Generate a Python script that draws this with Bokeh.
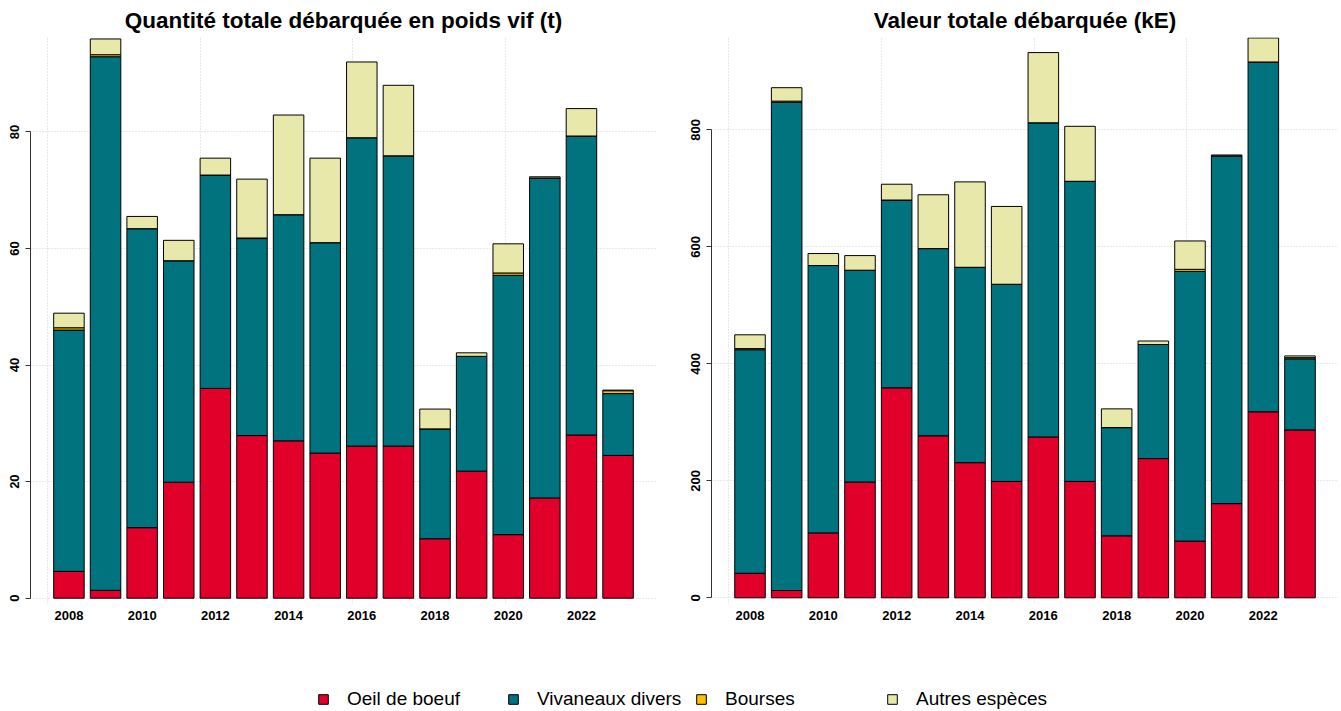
from bokeh.plotting import figure
from bokeh.models import Range1d, FixedTicker, Legend, LegendItem, ColumnDataSource
from bokeh.layouts import column, row
from bokeh.embed import file_html
from bokeh.resources import INLINE

# ---------------- data ----------------
years = [2008, 2009, 2010, 2011, 2012, 2013, 2014, 2015,
         2016, 2017, 2018, 2019, 2020, 2021, 2022, 2023]

species = ["Oeil de boeuf", "Vivaneaux divers", "Bourses", "Autres espèces"]
colors = ["#E0002A", "#00737F", "#FFC000", "#E8E8AA"]

# Quantité (t)
q_oeil = [4.6, 1.35, 12.1, 19.9, 36.0, 27.9, 27.0, 24.9, 26.1, 26.1, 10.2, 21.8, 10.9, 17.2, 28.0, 24.5]
q_viv = [41.4, 91.55, 51.3, 38.0, 36.6, 33.8, 38.8, 36.1, 52.9, 49.8, 18.8, 19.7, 44.5, 54.9, 51.3, 10.6]
q_bourses = [0.4, 0.35, 0.0, 0.0, 0.0, 0.1, 0.0, 0.0, 0.0, 0.0, 0.05, 0.0, 0.4, 0.0, 0.0, 0.5]
q_autres = [2.5, 2.7, 2.1, 3.5, 2.9, 10.1, 17.1, 14.5, 13.0, 12.1, 3.4, 0.6, 5.0, 0.2, 4.7, 0.1]

# Valeur (kE)
v_oeil = [42, 12.5, 111, 198, 359, 277, 231, 199, 275, 199, 106, 238, 97, 161, 318, 287]
v_viv = [382, 834.5, 457, 362, 321, 320, 334, 337, 537, 513, 185, 195, 461, 594.5, 598, 121.5]
v_bourses = [2, 2, 0, 0, 0, 0, 0, 0, 0, 0, 0, 0, 3.5, 0, 0, 2]
v_autres = [23.6, 23, 20.5, 25, 27, 92, 146, 133, 120, 94, 32, 6, 48.5, 1.5, 41, 3]

q_ticks = [0, 20, 40, 60, 80]
v_ticks = [0, 200, 400, 600, 800]

FONT = "Liberation Sans"
X_START, X_END = 2006.95, 2024.05
BAR_W = 1 / 1.2
GRID_X = [2008 + (k * 5 - 0.7) / 1.2 for k in range(4)]


def make_src(a, b, c, d):
    return ColumnDataSource(dict(year=years, s0=a, s1=b, s2=c, s3=d))


def make_fig(title, src, y_start, y_end, yticks, width, bl, br):
    p = figure(width=width, height=650,
               x_range=Range1d(X_START, X_END), y_range=Range1d(y_start, y_end),
               output_backend="svg", toolbar_location=None,
               min_border_left=bl, min_border_right=br,
               min_border_top=37, min_border_bottom=47)
    p.title.text = title
    p.title.align = "center"
    p.title.text_font = FONT
    p.title.text_font_size = "22.5px"
    p.title.text_font_style = "bold"
    p.title.text_color = "black"
    p.title.standoff = 9
    p.outline_line_color = None
    p.background_fill_color = "white"
    p.border_fill_color = "white"

    p.vbar_stack(["s0", "s1", "s2", "s3"], x="year", width=BAR_W, source=src,
                 fill_color=colors, line_color="black", line_width=1)

    xa = p.xaxis[0]
    xa.ticker = FixedTicker(ticks=years[::2])
    xa.axis_line_color = None
    xa.major_tick_line_color = None
    xa.minor_tick_line_color = None
    xa.major_label_text_font = FONT
    xa.major_label_text_font_size = "13px"
    xa.major_label_text_font_style = "bold"
    xa.major_label_text_color = "black"
    xa.major_label_standoff = 1

    ya = p.yaxis[0]
    ya.ticker = FixedTicker(ticks=yticks)
    ya.bounds = (yticks[0], yticks[-1])
    ya.major_label_orientation = "vertical"
    ya.major_tick_out = 5
    ya.major_tick_in = 0
    ya.minor_tick_line_color = None
    ya.axis_line_color = "#333333"
    ya.major_tick_line_color = "#333333"
    ya.major_label_text_font = FONT
    ya.major_label_text_font_size = "13px"
    ya.major_label_text_font_style = "bold"
    ya.major_label_text_color = "black"
    ya.major_label_standoff = 6

    p.xgrid.ticker = FixedTicker(ticks=GRID_X)
    for g in (p.xgrid[0], p.ygrid[0]):
        g.grid_line_color = "#D3D3D3"
        g.grid_line_dash = "1 2"
        g.grid_line_width = 1
    return p


p1 = make_fig("Quantité totale débarquée en poids vif (t)",
              make_src(q_oeil, q_viv, q_bourses, q_autres),
              -0.91, 96.2, q_ticks, 680, 30, 24)
p2 = make_fig("Valeur totale débarquée (kE)",
              make_src(v_oeil, v_viv, v_bourses, v_autres),
              -9.7, 957.8, v_ticks, 660, 31, 2)

# legend strip
p3 = figure(width=1340, height=61, x_range=Range1d(0, 1), y_range=Range1d(0, 1),
            x_axis_type=None, y_axis_type=None, output_backend="svg",
            toolbar_location=None, min_border=0)
p3.outline_line_color = None
p3.grid.visible = False
rs = p3.vbar_stack(["s0", "s1", "s2", "s3"], x="year", width=BAR_W,
                   source=make_src(q_oeil, q_viv, q_bourses, q_autres),
                   fill_color=colors, line_color="black", line_width=1)
leg_x = [317, 507, 695, 886]
for r, name, lx in zip(rs, species, leg_x):
    lg = Legend(items=[LegendItem(label=name, renderers=[r])], location=(lx, 1),
                orientation="horizontal", padding=0, margin=0, spacing=0,
                glyph_width=12, glyph_height=12, label_standoff=18,
                label_text_font=FONT, label_text_font_size="19px",
                label_text_color="black",
                border_line_color=None, background_fill_alpha=0)
    p3.add_layout(lg, "center")

layout = column(row(p1, p2), p3)
open("out.html", "w").write(file_html(layout, INLINE))
